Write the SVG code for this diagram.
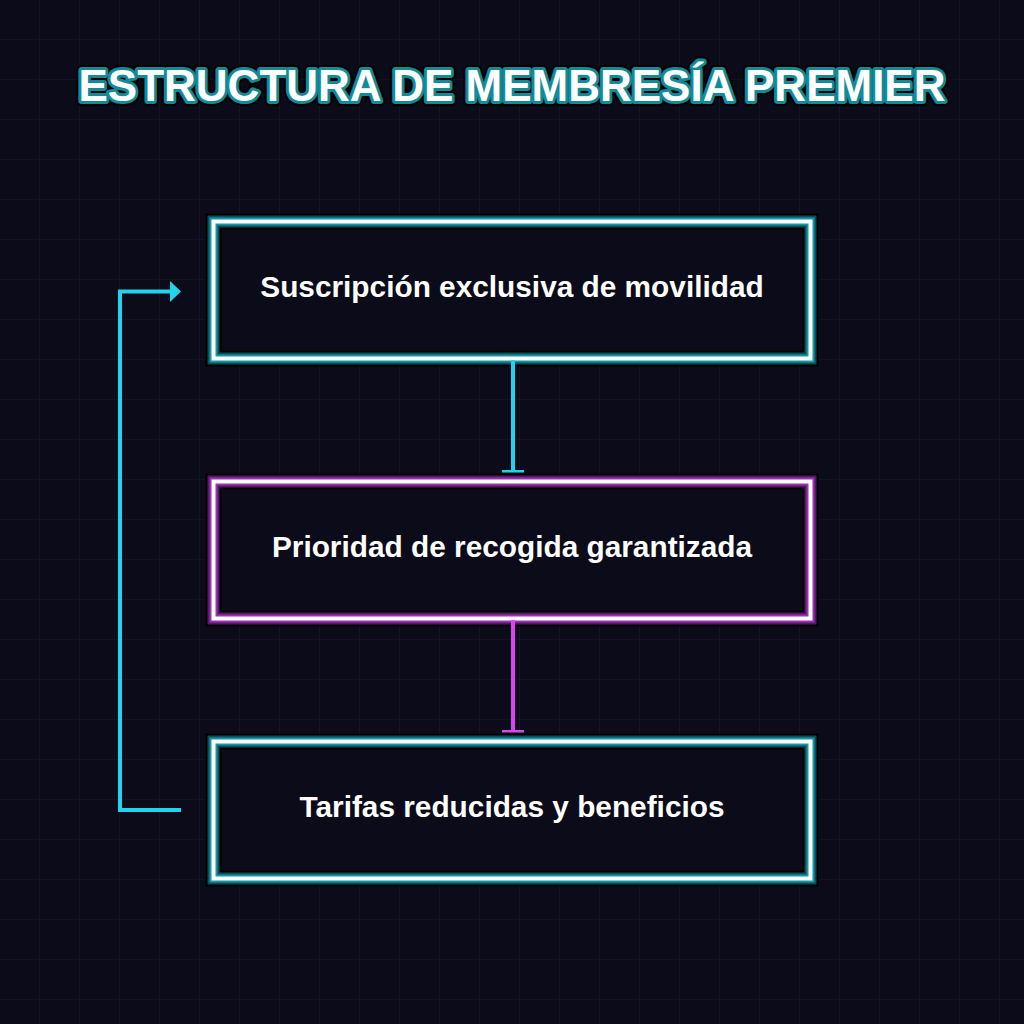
<svg xmlns="http://www.w3.org/2000/svg" width="1024" height="1024" viewBox="0 0 1024 1024">
  <defs>
    <pattern id="grid" width="40" height="40" patternUnits="userSpaceOnUse">
      <path d="M40 0 V40 M0 40 H40" fill="none" stroke="#1a1a2e" stroke-width="1.2"/>
    </pattern>
  </defs>
  <style>
    .title{font-family:"Liberation Sans",Arial,sans-serif;font-weight:bold;font-size:44px;text-anchor:middle}
    .label{font-family:"Liberation Sans",Arial,sans-serif;font-weight:bold;font-size:29.8px;fill:#ffffff;text-anchor:middle;dominant-baseline:central}
    .box{fill:#0b0b19}
    .edge{fill:none;stroke-width:4}
  </style>
  <rect width="1024" height="1024" fill="#0b0b19"/>
  <rect width="1024" height="1024" fill="url(#grid)"/>

  <g id="title">
    <text class="title" x="512" y="101" fill="none" stroke="#000" stroke-width="10" stroke-linejoin="round">ESTRUCTURA DE MEMBRESÍA PREMIER</text>
    <text class="title" x="512" y="101" fill="#ffffff" stroke="#128a97" stroke-width="6" stroke-linejoin="round" paint-order="stroke">ESTRUCTURA DE MEMBRESÍA PREMIER</text>
  </g>

  <g id="node1">
    <rect class="box" x="213.5" y="221.5" width="597" height="137" stroke="#000" stroke-width="16"/>
    <rect x="213.5" y="221.5" width="597" height="137" fill="none" stroke="#0a4f56" stroke-width="12"/>
    <rect x="213.5" y="221.5" width="597" height="137" fill="none" stroke="#1398a8" stroke-width="8"/>
    <rect x="213.5" y="221.5" width="597" height="137" fill="none" stroke="#ffffff" stroke-width="4"/>
    <text class="label" x="512" y="286.5">Suscripción exclusiva de movilidad</text>
  </g>

  <g id="node2">
    <rect class="box" x="213.5" y="481.5" width="597" height="137" stroke="#000" stroke-width="16"/>
    <rect x="213.5" y="481.5" width="597" height="137" fill="none" stroke="#561866" stroke-width="12"/>
    <rect x="213.5" y="481.5" width="597" height="137" fill="none" stroke="#9a32b2" stroke-width="8"/>
    <rect x="213.5" y="481.5" width="597" height="137" fill="none" stroke="#ffffff" stroke-width="4"/>
    <text class="label" x="512" y="546.5">Prioridad de recogida garantizada</text>
  </g>

  <g id="node3">
    <rect class="box" x="213.5" y="741.5" width="597" height="137" stroke="#000" stroke-width="16"/>
    <rect x="213.5" y="741.5" width="597" height="137" fill="none" stroke="#0a4f56" stroke-width="12"/>
    <rect x="213.5" y="741.5" width="597" height="137" fill="none" stroke="#1398a8" stroke-width="8"/>
    <rect x="213.5" y="741.5" width="597" height="137" fill="none" stroke="#ffffff" stroke-width="4"/>
    <text class="label" x="512" y="806.5">Tarifas reducidas y beneficios</text>
  </g>

  <g id="connectors">
    <path class="edge" d="M513 360 V471" stroke="#22d3ee"/>
    <rect x="502" y="470" width="22" height="2.5" fill="#22d3ee"/>
    <path class="edge" d="M513 620 V731" stroke="#d946ef"/>
    <rect x="502" y="730" width="22" height="2.5" fill="#d946ef"/>
    <path class="edge" d="M181 810 H120 V291.5 H172" stroke="#22d3ee"/>
    <path d="M170 281 L181 291.5 L170 302 Z" fill="#22d3ee"/>
  </g>
</svg>
